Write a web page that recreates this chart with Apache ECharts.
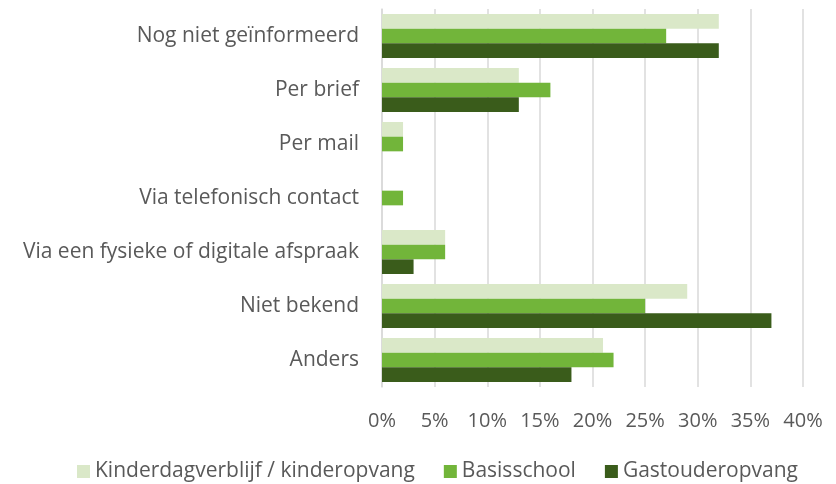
<!DOCTYPE html>
<html>
<head>
<meta charset="utf-8">
<script src="https://cdn.jsdelivr.net/npm/echarts@6/dist/echarts.min.js"></script>
<style>
  html, body { margin: 0; padding: 0; background: #fff; }
  #chart { width: 836px; height: 484px; }
</style>
</head>
<body>
<div id="chart"></div>
<script>
const categories = [
  "Nog niet geïnformeerd",
  "Per brief",
  "Per mail",
  "Via telefonisch contact",
  "Via een fysieke of digitale afspraak",
  "Niet bekend",
  "Anders",
];
const kinderdagverblijf = [32, 13, 2, 0, 6, 29, 21];
const basisschool = [27, 16, 2, 2, 6, 25, 22];
const gastouderopvang = [32, 13, 0, 0, 3, 37, 18];
const seriesNames = ["Kinderdagverblijf / kinderopvang", "Basisschool", "Gastouderopvang"];

const colors = ["#dae8c8", "#72b53a", "#3a5c1b"];
const textColor = "#595959";
const fontFamily = "'Open Sans', sans-serif";

const chart = echarts.init(document.getElementById("chart"));

const makeSeries = (name, data, i) => ({
  name: name,
  type: "bar",
  data: data,
  barGap: "0%",
  barCategoryGap: "18.5%",
  itemStyle: { color: colors[i] },
});

const option = {
  animation: false,
  color: colors,
  grid: {
    left: 382,
    top: 9,
    width: 421,
    height: 378,
    containLabel: false,
  },
  xAxis: {
    type: "value",
    min: 0,
    max: 40,
    interval: 5,
    axisLine: { show: false },
    axisTick: { show: false },
    axisLabel: {
      color: textColor,
      fontSize: 20,
      fontFamily: fontFamily,
      margin: 24,
      formatter: (v) => v + "%",
    },
    splitLine: { lineStyle: { color: "#d9d9d9", width: 1.5 } },
  },
  yAxis: {
    type: "category",
    inverse: true,
    data: categories,
    axisLine: { lineStyle: { color: "#d9d9d9", width: 1.5 } },
    axisTick: { show: false },
    axisLabel: {
      color: textColor,
      fontSize: 21,
      fontFamily: fontFamily,
      margin: 23,
    },
  },
  legend: {
    top: 456,
    left: 72,
    itemWidth: 13,
    itemHeight: 13,
    itemGap: 29,
    icon: "rect",
    textStyle: { color: textColor, fontSize: 21, fontFamily: fontFamily },
    data: seriesNames,
  },
  series: [
    makeSeries(seriesNames[0], kinderdagverblijf, 0),
    makeSeries(seriesNames[1], basisschool, 1),
    makeSeries(seriesNames[2], gastouderopvang, 2),
  ],
};

chart.setOption(option);
</script>
</body>
</html>
